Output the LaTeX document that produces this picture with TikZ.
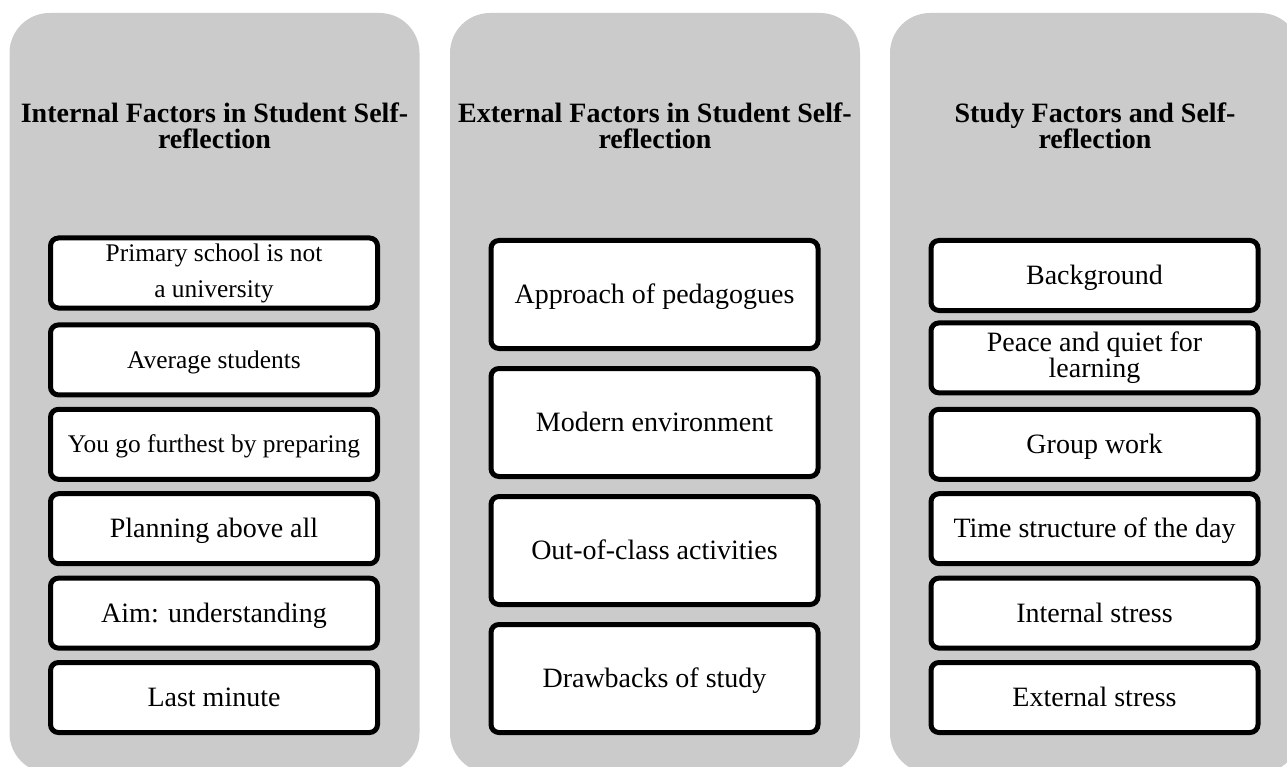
\documentclass[tikz,border=0pt]{standalone}
\usepackage{fontspec}
\setmainfont{Liberation Serif}
\definecolor{panelgray}{HTML}{CBCBCB}
\begin{document}
\begin{tikzpicture}[x=1pt,y=-1pt,
  panel/.style={fill=panelgray, rounded corners=40pt, minimum width=410pt, minimum height=760pt, inner sep=0pt},
  item/.style={draw=black, line width=5pt, fill=white, rounded corners=8pt, minimum width=327pt, minimum height=70pt, inner sep=0pt, align=center, font=\fontsize{28}{30}\selectfont},
  one/.style={text height=24pt, text depth=5.5pt},
  onesmall/.style={font=\fontsize{25.4}{30}\selectfont, text height=22pt, text depth=5.2pt},
  tallbox/.style={minimum height=108pt},
  title/.style={font=\bfseries\fontsize{28}{26}\selectfont, align=center, inner sep=0pt}
]
\useasboundingbox (0,0) rectangle (1287,767);
\clip (0,0) rectangle (1287,767);

% panels
\node[panel] (p1) at (214.5,393) {};
\node[panel] (p2) at (655,393) {};
\node[panel] (p3) at (1095,393) {};

% titles
\node[title] (t1) at (214.5,125.4) {Internal Factors in Student Self-\\reflection};
\node[title] (t2) at (655,125.4) {External Factors in Student Self-\\reflection};
\node[title] (t3) at (1095,125.4) {Study Factors and Self-\\reflection};

% panel 1 items
\node[item, font=\fontsize{25.4}{36}\selectfont, yshift=2.5pt] (a1) at (214,275.5) {Primary school is not\\a university};
\node[item, onesmall] (a2) at (214,359.9) {Average students};
\node[item, onesmall] (a3) at (214,444.3) {You go furthest by preparing};
\node[item, one] (a4) at (214,528.7) {Planning above all};
\node[item, one] (a5) at (214,613.1) {Aim: understanding};
\node[item, one] (a6) at (214,697.5) {Last minute};

% panel 2 items
\node[item, one, tallbox] (b1) at (654.5,294.5) {Approach of pedagogues};
\node[item, one, tallbox] (b2) at (654.5,422.5) {Modern environment};
\node[item, one, tallbox] (b3) at (654.5,550.5) {Out-of-class activities};
\node[item, one, tallbox] (b4) at (654.5,678.5) {Drawbacks of study};

% panel 3 items
\node[item, one] (c1) at (1094.5,275.5) {Background};
\node[item, font=\fontsize{28}{26}\selectfont, yshift=2pt] (c2) at (1094.5,359.9) {Peace and quiet for\\learning};
\node[item, one] (c3) at (1094.5,444.3) {Group work};
\node[item, one] (c4) at (1094.5,528.7) {Time structure of the day};
\node[item, one] (c5) at (1094.5,613.1) {Internal stress};
\node[item, one] (c6) at (1094.5,697.5) {External stress};
\end{tikzpicture}
\end{document}
